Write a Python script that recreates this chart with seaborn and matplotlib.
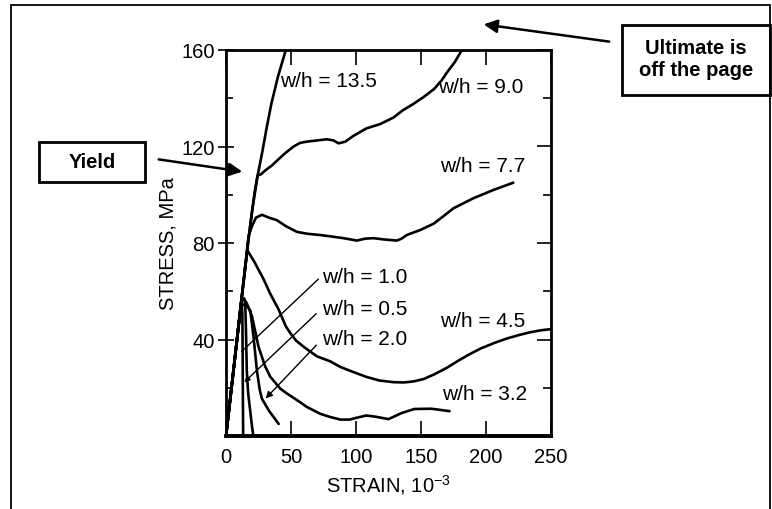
import matplotlib
matplotlib.use("Agg")
import matplotlib.pyplot as plt
import matplotlib.patches as patches
import seaborn as sns

# stress-strain curves (strain in 10^-3, stress in MPa)
strain_13_5 = [0, 6, 12, 17.4, 20, 24, 28, 31, 35, 40, 46, 48]
stress_13_5 = [0, 28, 57, 82, 93, 107, 118, 127, 138, 149, 160, 163]

strain_9_0 = [0, 12, 17.4, 22, 24.3, 27, 30, 35, 39, 45, 52, 57, 62, 70, 77.6, 82.7,
              86.6, 91.7, 98, 108, 118.6, 128.8, 136, 144, 152, 160, 166, 170, 176, 182]
stress_9_0 = [0, 57, 82, 101, 108, 108.5, 110, 112, 114, 117, 120, 121.5, 122, 122.5, 123, 122.5,
              121.3, 122, 124.4, 127.5, 129.3, 132, 135, 137.6, 140.5, 143.8, 147.5, 150.7, 155, 160.5]

strain_7_7 = [0, 12, 17.4, 20, 23, 27.7, 33, 39, 46, 54.6, 63, 72.5, 81, 90.4, 100.7, 107,
              113.5, 121, 131.5, 135, 139, 149.5, 159.7, 167, 175, 190.5, 205.8, 221]
stress_7_7 = [0, 57, 83, 87, 90.5, 91.7, 90.5, 89.5, 87, 84.6, 83.8, 83.3, 82.7, 82, 81, 81.8,
              82, 81.5, 81, 81.8, 83.3, 85.4, 88, 91, 94.4, 98.6, 102, 105]

strain_4_5 = [0, 12, 16.4, 22, 28.9, 34, 40.5, 46, 49.5, 54, 59.7, 70, 80, 88, 98, 108, 118,
              129, 137, 144, 152, 160, 170, 178, 187, 196, 206, 216, 225, 234, 242, 250]
stress_4_5 = [0, 57, 77, 72, 65, 59, 52.4, 45.5, 42.6, 39.5, 37, 33, 31, 28.6, 26.5, 24.5, 23,
              22.3, 22.2, 22.6, 23.6, 25.5, 28.3, 31, 33.8, 36.3, 38.5, 40.4, 41.8, 43, 43.8, 44.3]

strain_3_2 = [0, 12, 13.5, 16, 20, 25, 30, 34, 41.8, 46.9, 52, 57, 62, 72.5, 80, 88, 95,
              100, 108, 115, 125, 135, 145, 158, 172]
stress_3_2 = [0, 56, 57, 55, 49.6, 37, 29, 24.6, 19.6, 17.6, 15.8, 14, 12.1, 9.2, 7.9, 6.8, 6.8,
              7.5, 8.5, 8, 7, 9.5, 11.2, 11.3, 10.3]

strain_2_0 = [0, 11.5, 13, 16, 18.7, 21.2, 23.8, 26, 27.7, 33, 40.5]
stress_2_0 = [0, 54, 54.5, 54, 52, 41, 27, 19, 15.4, 10.5, 5]

strain_1_0 = [0, 12, 14, 14.8, 15.3, 16, 17, 18.7, 20, 21]
stress_1_0 = [0, 57, 57, 55, 45, 27, 18, 10, 4, 0]

strain_0_5 = [0, 12, 12.6, 12.8, 13, 13.2]
stress_0_5 = [0, 57, 50, 35, 15, 0]

curves = [(strain_13_5, stress_13_5), (strain_9_0, stress_9_0), (strain_7_7, stress_7_7),
          (strain_4_5, stress_4_5), (strain_3_2, stress_3_2), (strain_2_0, stress_2_0),
          (strain_1_0, stress_1_0), (strain_0_5, stress_0_5)]

x_ticks = [0, 50, 100, 150, 200, 250]
y_ticks = [40, 80, 120, 160]
y_minor = [20, 60, 100, 140]

sns.set_style("ticks")
plt.rcParams['font.family'] = ['Liberation Sans', 'DejaVu Sans']
plt.rcParams['mathtext.default'] = 'regular'
plt.rcParams['text.color'] = 'black'
plt.rcParams['axes.labelcolor'] = 'black'
plt.rcParams['xtick.color'] = 'black'
plt.rcParams['ytick.color'] = 'black'

W, H = 772, 510
fig = plt.figure(figsize=(W / 100, H / 100), dpi=100)


def fx(px):
    return px / W


def fy(py):
    return 1 - py / H


ax = fig.add_axes([fx(226), fy(437), fx(551) - fx(226), fy(51) - fy(437)])

for sx, sy in curves:
    sns.lineplot(x=sx, y=sy, sort=False, estimator=None, color='black', lw=1.9, ax=ax)

ax.set_xlim(0, 250)
ax.set_ylim(0, 160)
ax.set_xticks(x_ticks)
ax.set_yticks(y_ticks)
ax.set_yticks(y_minor, minor=True)
ax.tick_params(axis='x', direction='in', length=11, width=1.2, top=True,
               labelsize=14.5, pad=8)
ax.tick_params(axis='y', which='major', direction='inout', length=12, width=1.2,
               labelsize=14.5, pad=2)
ax.tick_params(axis='y', which='minor', direction='in', length=5, width=1.2)
for s in ['left', 'right', 'top']:
    ax.spines[s].set_linewidth(2)
    ax.spines[s].set_color('black')
ax.spines['bottom'].set_linewidth(2.8)
ax.spines['bottom'].set_color('black')

# right-hand ticks point inward only
ax_r = ax.twinx()
ax_r.set_ylim(0, 160)
ax_r.set_yticks(y_ticks)
ax_r.set_yticks(y_minor, minor=True)
ax_r.tick_params(axis='y', which='major', direction='in', length=10, width=1.2, labelright=False)
ax_r.tick_params(axis='y', which='minor', direction='in', length=6, width=1.2)
for s in ax_r.spines.values():
    s.set_visible(False)

ax.set_xlabel(r'STRAIN, 10$^{-3}$', fontsize=14.5, labelpad=4)
ax.set_ylabel('STRESS, MPa', fontsize=14.5, labelpad=3)

lbl = dict(fontsize=15, ha='left', va='center', color='black')
ax.text(41.7, 147.5, 'w/h = 13.5', **lbl)
ax.text(163, 145, 'w/h = 9.0', **lbl)
ax.text(164.7, 112, 'w/h = 7.7', **lbl)
ax.text(164.7, 48, 'w/h = 4.5', **lbl)
ax.text(166, 17.5, 'w/h = 3.2', **lbl)
ax.text(73.8, 66, 'w/h = 1.0', **lbl)
ax.text(73.8, 53, 'w/h = 0.5', **lbl)
ax.text(73.8, 40.4, 'w/h = 2.0', **lbl)

# leader lines to the low w/h curves
ax.plot([71, 12], [65, 35], color='black', lw=1)
ax.annotate('', xy=(12.5, 21.5), xytext=(71, 51.5),
            arrowprops=dict(arrowstyle='-|>', color='black', lw=1, mutation_scale=8))
ax.annotate('', xy=(29, 14.7), xytext=(71, 38.5),
            arrowprops=dict(arrowstyle='-|>', color='black', lw=1, mutation_scale=10))

# outer frame of the slide
fig.patches.append(patches.Rectangle((fx(11), fy(530)), fx(770) - fx(11), fy(6) - fy(530),
                                     transform=fig.transFigure, fill=False, lw=1.3,
                                     edgecolor='black', clip_on=False))

# callout boxes
fig.patches.append(patches.Rectangle((fx(39), fy(183)), fx(145) - fx(39), fy(143) - fy(183),
                                     transform=fig.transFigure, fill=False, lw=2,
                                     edgecolor='black'))
fig.text(fx(92), fy(163), 'Yield', fontsize=14.5, fontweight='bold', ha='center', va='center')
fig.patches.append(patches.Rectangle((fx(622), fy(96)), fx(770) - fx(622), fy(26) - fy(96),
                                     transform=fig.transFigure, fill=False, lw=2,
                                     edgecolor='black'))
fig.text(fx(696), fy(60), 'Ultimate is\noff the page', fontsize=14.5, fontweight='bold',
         ha='center', va='center', multialignment='center', linespacing=1.2)

arrow = dict(arrowstyle='-|>', color='black', lw=1.8, mutation_scale=20)
ax.annotate('', xy=(fx(245), fy(173)), xytext=(fx(156), fy(160)),
            xycoords='figure fraction', textcoords='figure fraction', arrowprops=arrow)
ax.annotate('', xy=(fx(481), fy(25)), xytext=(fx(612), fy(43)),
            xycoords='figure fraction', textcoords='figure fraction', arrowprops=arrow)

fig.savefig('out.png', dpi=100)
